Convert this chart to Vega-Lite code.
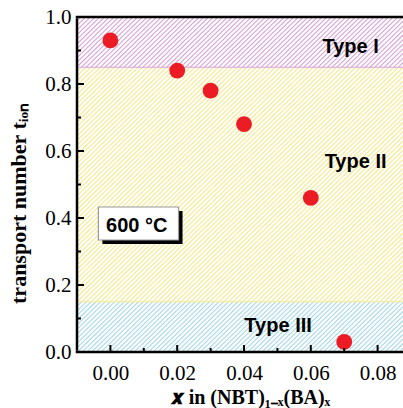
{
  "$schema": "https://vega.github.io/schema/vega-lite/v6.json",
  "width": 326,
  "height": 335,
  "autosize": "none",
  "padding": {"left": 77, "top": 17, "right": 0, "bottom": 56},
  "background": "white",
  "config": {"view": {"stroke": null}},
  "datasets": {
    "one": [{}],
    "regions": [
      {"type": "Type I", "lo": 0.85, "hi": 1.0},
      {"type": "Type II", "lo": 0.15, "hi": 0.85},
      {"type": "Type III", "lo": 0.0, "hi": 0.15}
    ],
    "boundaries": [
      {"t": 0.85, "edge": "upper"},
      {"t": 0.15, "edge": "lower"}
    ],
    "frame": [
      {"side": "top", "xa": -0.01, "xb": 0.0876, "ta": 1, "tb": 1},
      {"side": "bottom", "xa": -0.01, "xb": 0.0876, "ta": 0, "tb": 0},
      {"side": "left", "xa": -0.01, "xb": -0.01, "ta": 0, "tb": 1}
    ],
    "xMajor": [{"v": 0}, {"v": 0.02}, {"v": 0.04}, {"v": 0.06}, {"v": 0.08}],
    "xMinor": [{"v": 0.01}, {"v": 0.03}, {"v": 0.05}, {"v": 0.07}],
    "yMajor": [{"v": 0.2}, {"v": 0.4}, {"v": 0.6}, {"v": 0.8}],
    "yMinor": [{"v": 0.1}, {"v": 0.3}, {"v": 0.5}, {"v": 0.7}, {"v": 0.9}],
    "points": [
      {"x": 0.00, "t": 0.93},
      {"x": 0.02, "t": 0.84},
      {"x": 0.03, "t": 0.78},
      {"x": 0.04, "t": 0.68},
      {"x": 0.06, "t": 0.46},
      {"x": 0.07, "t": 0.03}
    ],
    "labels": [
      {"label": "Type I", "x": 0.0719, "t": 0.8934},
      {"label": "Type II", "x": 0.0734, "t": 0.5484},
      {"label": "Type III", "x": 0.0502, "t": 0.0606}
    ],
    "box": [
      {"x0": -0.0036, "x1": 0.0204, "t0": 0.3343, "t1": 0.4328, "x": 0.0079, "t": 0.359, "label": "600 °C"}
    ]
  },
  "layer": [
    {
      "data": {"name": "regions"},
      "mark": {"type": "rect"},
      "encoding": {
        "x": {"datum": -0.01, "type": "quantitative", "scale": {"domain": [-0.01, 0.0876], "nice": false, "zero": false}},
        "x2": {"datum": 0.0876},
        "y": {"field": "lo", "type": "quantitative", "scale": {"domain": [0, 1], "nice": false, "zero": false}},
        "y2": {"field": "hi"},
        "color": {
          "field": "type", "type": "nominal", "legend": null,
          "scale": {"domain": ["Type I", "Type II", "Type III"], "range": ["#d9a3d6", "#f6e98c", "#a6d9ea"]}
        }
      }
    },
    {
      "data": {"name": "one"},
      "mark": {"type": "rule", "clip": true, "color": "white", "strokeWidth": 480, "strokeDash": [2.2, 1.1], "strokeCap": "butt"},
      "encoding": {
        "x": {"datum": -0.01, "type": "quantitative", "scale": {"domain": [-0.01, 0.0876], "nice": false, "zero": false}},
        "y": {"datum": 1, "type": "quantitative", "scale": {"domain": [0, 1], "nice": false, "zero": false}},
        "x2": {"datum": 0.0876},
        "y2": {"datum": 0}
      }
    },
    {
      "data": {"name": "boundaries"},
      "mark": {"type": "rule", "strokeWidth": 1},
      "encoding": {
        "x": {"datum": -0.01, "type": "quantitative", "scale": {"domain": [-0.01, 0.0876], "nice": false, "zero": false}},
        "x2": {"datum": 0.0876},
        "y": {"field": "t", "type": "quantitative", "scale": {"domain": [0, 1], "nice": false, "zero": false}},
        "color": {"field": "edge", "type": "nominal", "legend": null, "scale": {"domain": ["upper", "lower"], "range": ["#f3e37c", "#b8ddea"]}}
      }
    },
    {
      "data": {"name": "points"},
      "mark": {"type": "circle", "size": 250, "color": "#ec1c24", "opacity": 1},
      "encoding": {
        "x": {
          "field": "x", "type": "quantitative",
          "scale": {"domain": [-0.01, 0.0876], "nice": false, "zero": false},
          "axis": {
            "orient": "bottom", "zindex": 1, "domain": false,
            "values": [0, 0.02, 0.04, 0.06, 0.08],
            "format": ".2f",
            "tickSize": -7, "tickOpacity": 0,
            "grid": false,
            "labelFont": "Liberation Serif", "labelFontSize": 21, "labelColor": "black",
            "labelPadding": 17, "labelOverlap": false, "labelFlush": false,
            "title": "𝒙 in (NBT)₁₋ₓ(BA)ₓ",
            "titleFont": "Liberation Serif", "titleFontSize": 20, "titleFontWeight": "bold", "titleColor": "black",
            "titleX": 173, "titleY": 51, "titleAlign": "center", "titleBaseline": "alphabetic"
          }
        },
        "y": {
          "field": "t", "type": "quantitative",
          "scale": {"domain": [0, 1], "nice": false, "zero": false},
          "axis": {
            "orient": "left", "zindex": 1, "domain": false,
            "values": [0, 0.2, 0.4, 0.6, 0.8, 1.0],
            "format": ".1f",
            "tickSize": -7, "tickOpacity": 0,
            "grid": false,
            "labelFont": "Liberation Serif", "labelFontSize": 21, "labelColor": "black",
            "labelPadding": 13, "labelOverlap": false, "labelFlush": false,
            "title": "transport number tᵢₒₙ",
            "titleFont": "Liberation Serif", "titleFontSize": 22, "titleFontWeight": "bold", "titleColor": "black",
            "titleX": -47, "titleY": 186, "titleAlign": "center", "titleBaseline": "bottom"
          }
        }
      }
    },
    {
      "data": {"name": "box"},
      "mark": {"type": "rect", "color": "black", "xOffset": 4, "x2Offset": 4, "yOffset": 4, "y2Offset": 4},
      "encoding": {
        "x": {"field": "x0", "type": "quantitative", "scale": {"domain": [-0.01, 0.0876], "nice": false, "zero": false}},
        "x2": {"field": "x1"},
        "y": {"field": "t0", "type": "quantitative", "scale": {"domain": [0, 1], "nice": false, "zero": false}},
        "y2": {"field": "t1"}
      }
    },
    {
      "data": {"name": "box"},
      "mark": {"type": "rect", "fill": "white", "stroke": "#999999", "strokeWidth": 1.2},
      "encoding": {
        "x": {"field": "x0", "type": "quantitative", "scale": {"domain": [-0.01, 0.0876], "nice": false, "zero": false}},
        "x2": {"field": "x1"},
        "y": {"field": "t0", "type": "quantitative", "scale": {"domain": [0, 1], "nice": false, "zero": false}},
        "y2": {"field": "t1"}
      }
    },
    {
      "data": {"name": "box"},
      "mark": {"type": "text", "font": "Liberation Sans", "fontWeight": "bold", "fontSize": 20, "color": "black", "align": "center", "baseline": "alphabetic"},
      "encoding": {
        "x": {"field": "x", "type": "quantitative", "scale": {"domain": [-0.01, 0.0876], "nice": false, "zero": false}},
        "y": {"field": "t", "type": "quantitative", "scale": {"domain": [0, 1], "nice": false, "zero": false}},
        "text": {"field": "label"}
      }
    },
    {
      "data": {"name": "labels"},
      "mark": {"type": "text", "font": "Liberation Sans", "fontWeight": "bold", "fontSize": 20, "color": "black", "align": "center", "baseline": "alphabetic"},
      "encoding": {
        "x": {"field": "x", "type": "quantitative", "scale": {"domain": [-0.01, 0.0876], "nice": false, "zero": false}},
        "y": {"field": "t", "type": "quantitative", "scale": {"domain": [0, 1], "nice": false, "zero": false}},
        "text": {"field": "label"}
      }
    },
    {
      "data": {"name": "xMajor"},
      "mark": {"type": "rect", "color": "black", "xOffset": -1, "x2Offset": 1, "y2Offset": -7},
      "encoding": {
        "x": {"field": "v", "type": "quantitative", "scale": {"domain": [-0.01, 0.0876], "nice": false, "zero": false}},
        "x2": {"field": "v"},
        "y": {"datum": 0, "type": "quantitative", "scale": {"domain": [0, 1], "nice": false, "zero": false}},
        "y2": {"datum": 0}
      }
    },
    {
      "data": {"name": "xMinor"},
      "mark": {"type": "rect", "color": "black", "xOffset": -1, "x2Offset": 1, "y2Offset": -4},
      "encoding": {
        "x": {"field": "v", "type": "quantitative", "scale": {"domain": [-0.01, 0.0876], "nice": false, "zero": false}},
        "x2": {"field": "v"},
        "y": {"datum": 0, "type": "quantitative", "scale": {"domain": [0, 1], "nice": false, "zero": false}},
        "y2": {"datum": 0}
      }
    },
    {
      "data": {"name": "yMajor"},
      "mark": {"type": "rect", "color": "black", "yOffset": -1, "y2Offset": 1, "x2Offset": 7},
      "encoding": {
        "y": {"field": "v", "type": "quantitative", "scale": {"domain": [0, 1], "nice": false, "zero": false}},
        "y2": {"field": "v"},
        "x": {"datum": -0.01, "type": "quantitative", "scale": {"domain": [-0.01, 0.0876], "nice": false, "zero": false}},
        "x2": {"datum": -0.01}
      }
    },
    {
      "data": {"name": "yMinor"},
      "mark": {"type": "rect", "color": "black", "yOffset": -1, "y2Offset": 1, "x2Offset": 4},
      "encoding": {
        "y": {"field": "v", "type": "quantitative", "scale": {"domain": [0, 1], "nice": false, "zero": false}},
        "y2": {"field": "v"},
        "x": {"datum": -0.01, "type": "quantitative", "scale": {"domain": [-0.01, 0.0876], "nice": false, "zero": false}},
        "x2": {"datum": -0.01}
      }
    },
    {
      "data": {"name": "frame"},
      "mark": {"type": "rect", "color": "black", "xOffset": -1.25, "x2Offset": 1.25, "yOffset": -1.25, "y2Offset": 1.25},
      "encoding": {
        "x": {"field": "xa", "type": "quantitative", "scale": {"domain": [-0.01, 0.0876], "nice": false, "zero": false}},
        "x2": {"field": "xb"},
        "y": {"field": "ta", "type": "quantitative", "scale": {"domain": [0, 1], "nice": false, "zero": false}},
        "y2": {"field": "tb"}
      }
    }
  ]
}
